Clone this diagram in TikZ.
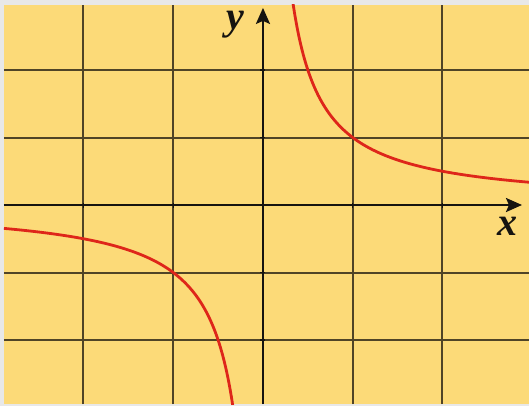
\documentclass[tikz,border=0pt]{standalone}
\usepackage{fontspec}
\setmainfont{Liberation Serif}
\usetikzlibrary{arrows.meta}
\definecolor{pageback}{RGB}{232,232,232}
\definecolor{paper}{RGB}{252,218,120}
\definecolor{gridline}{RGB}{80,68,38}
\definecolor{axisline}{RGB}{22,20,16}
\definecolor{curvered}{RGB}{222,38,26}

\begin{document}
\begin{tikzpicture}[x=89.75pt, y=67.5pt,
  gridrule/.style={draw=gridline, line width=2pt},
  axisrule/.style={draw=axisline, line width=2.4pt, -{Stealth[length=16pt,width=14pt,inset=3pt]}},
  branch/.style={draw=curvered, line width=2.8pt, smooth, samples=150},
  axislabel/.style={font=\fontsize{40}{40}\selectfont\bfseries\itshape, text=axisline, inner sep=0pt}]
  \useasboundingbox[fill=pageback] (-2.930,-2.978) rectangle (2.964,3.037);
  \fill[paper] (-2.886,-2.948) rectangle (2.964,2.963);
  \foreach \gx in {-2,-1,1,2}
    \draw[gridrule] (\gx,-2.948) -- (\gx,2.963);
  \foreach \gy in {-2,-1,1,2}
    \draw[gridrule] (-2.886,\gy) -- (2.964,\gy);
  \draw[axisrule] (-2.886,0) -- (2.886,0);
  \draw[axisrule] (0,-2.948) -- (0,2.92);
  \foreach \t in {-2,-1,1,2} {
    \draw[axisline, line width=1.4pt] (\t,0) ++(0,-2.5pt) -- ++(0,5pt);
    \draw[axisline, line width=1.4pt] (0,\t) ++(-2.5pt,0) -- ++(5pt,0);
  }
  \begin{scope}
    \clip (-2.886,-2.948) rectangle (2.964,2.963);
    \draw[branch, domain=0.33:2.964] plot (\x,{1/\x});
    \draw[branch, domain=-2.886:-0.33] plot (\x,{1/\x});
  \end{scope}
  \node[axislabel] (ylabel) at (-0.312,2.67) {y};
  \node[axislabel] (xlabel) at (2.73,-0.311) {x};
\end{tikzpicture}
\end{document}
